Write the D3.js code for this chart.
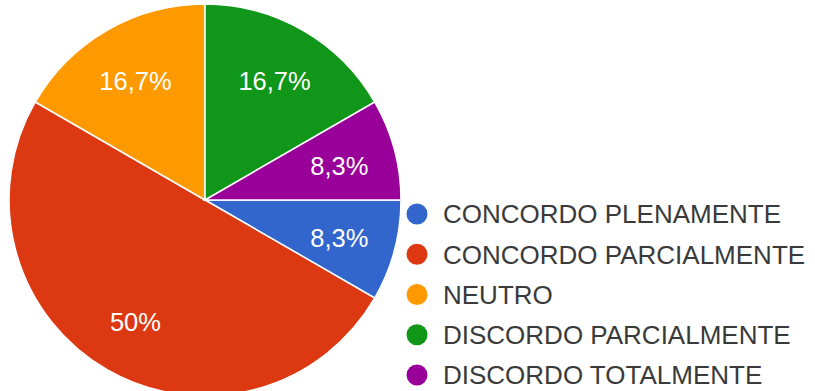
<!DOCTYPE html>
<html>
<head>
<meta charset="utf-8">
<script src="https://cdn.jsdelivr.net/npm/d3@7"></script>
<style>
  html, body { margin: 0; padding: 0; background: #ffffff; overflow: hidden; }
  svg { display: block; font-family: "Liberation Sans", Arial, sans-serif; }
</style>
</head>
<body>
<svg id="chart" width="815" height="391"></svg>
<script>
// Survey answers (number of responses per option)
const categories = [
  "CONCORDO PLENAMENTE",
  "CONCORDO PARCIALMENTE",
  "NEUTRO",
  "DISCORDO PARCIALMENTE",
  "DISCORDO TOTALMENTE"
];
const counts = [1, 6, 2, 2, 1];
const colors = ["#3366cc", "#dc3912", "#ff9900", "#109618", "#990099"];

const svg = d3.select("#chart");
const cx = 205, cy = 200, radius = 196;

const total = d3.sum(counts);
const data = categories.map((name, i) => ({ name, value: counts[i], color: colors[i] }));

// First slice begins at 3 o'clock and runs clockwise
const pie = d3.pie()
  .value(d => d.value)
  .sort(null)
  .startAngle(Math.PI / 2)
  .endAngle(Math.PI / 2 + 2 * Math.PI);

const arc = d3.arc().innerRadius(0).outerRadius(radius);
const labelArc = d3.arc().innerRadius(radius * 0.71).outerRadius(radius * 0.71);

const g = svg.append("g").attr("transform", `translate(${cx},${cy})`);
const arcs = pie(data);

g.selectAll("path.slice")
  .data(arcs)
  .join("path")
  .attr("class", "slice")
  .attr("d", arc)
  .attr("fill", d => d.data.color)
  .attr("stroke", "#ffffff")
  .attr("stroke-width", 1.5);

const fmt = v => {
  const p = Math.round(v / total * 1000) / 10;
  return (Number.isInteger(p) ? p.toFixed(0) : p.toFixed(1)).replace(".", ",") + "%";
};

g.selectAll("text.pct")
  .data(arcs)
  .join("text")
  .attr("class", "pct")
  .attr("transform", d => `translate(${labelArc.centroid(d)})`)
  .attr("text-anchor", "middle")
  .attr("dy", "0.42em")
  .attr("fill", "#ffffff")
  .attr("font-size", 25.5)
  .text(d => fmt(d.data.value));

// Legend
const legendY = d3.scalePoint()
  .domain(categories)
  .range([214, 375]);

const legend = svg.append("g");
const item = legend.selectAll("g.item")
  .data(data)
  .join("g")
  .attr("class", "item")
  .attr("transform", d => `translate(0,${legendY(d.name)})`);

item.append("circle")
  .attr("cx", 417)
  .attr("cy", 0)
  .attr("r", 10.5)
  .attr("fill", d => d.color);

item.append("text")
  .attr("x", 443)
  .attr("y", 0)
  .attr("dy", "0.36em")
  .attr("fill", "#3a3a3a")
  .attr("font-size", 26)
  .text(d => d.name);
</script>
</body>
</html>
